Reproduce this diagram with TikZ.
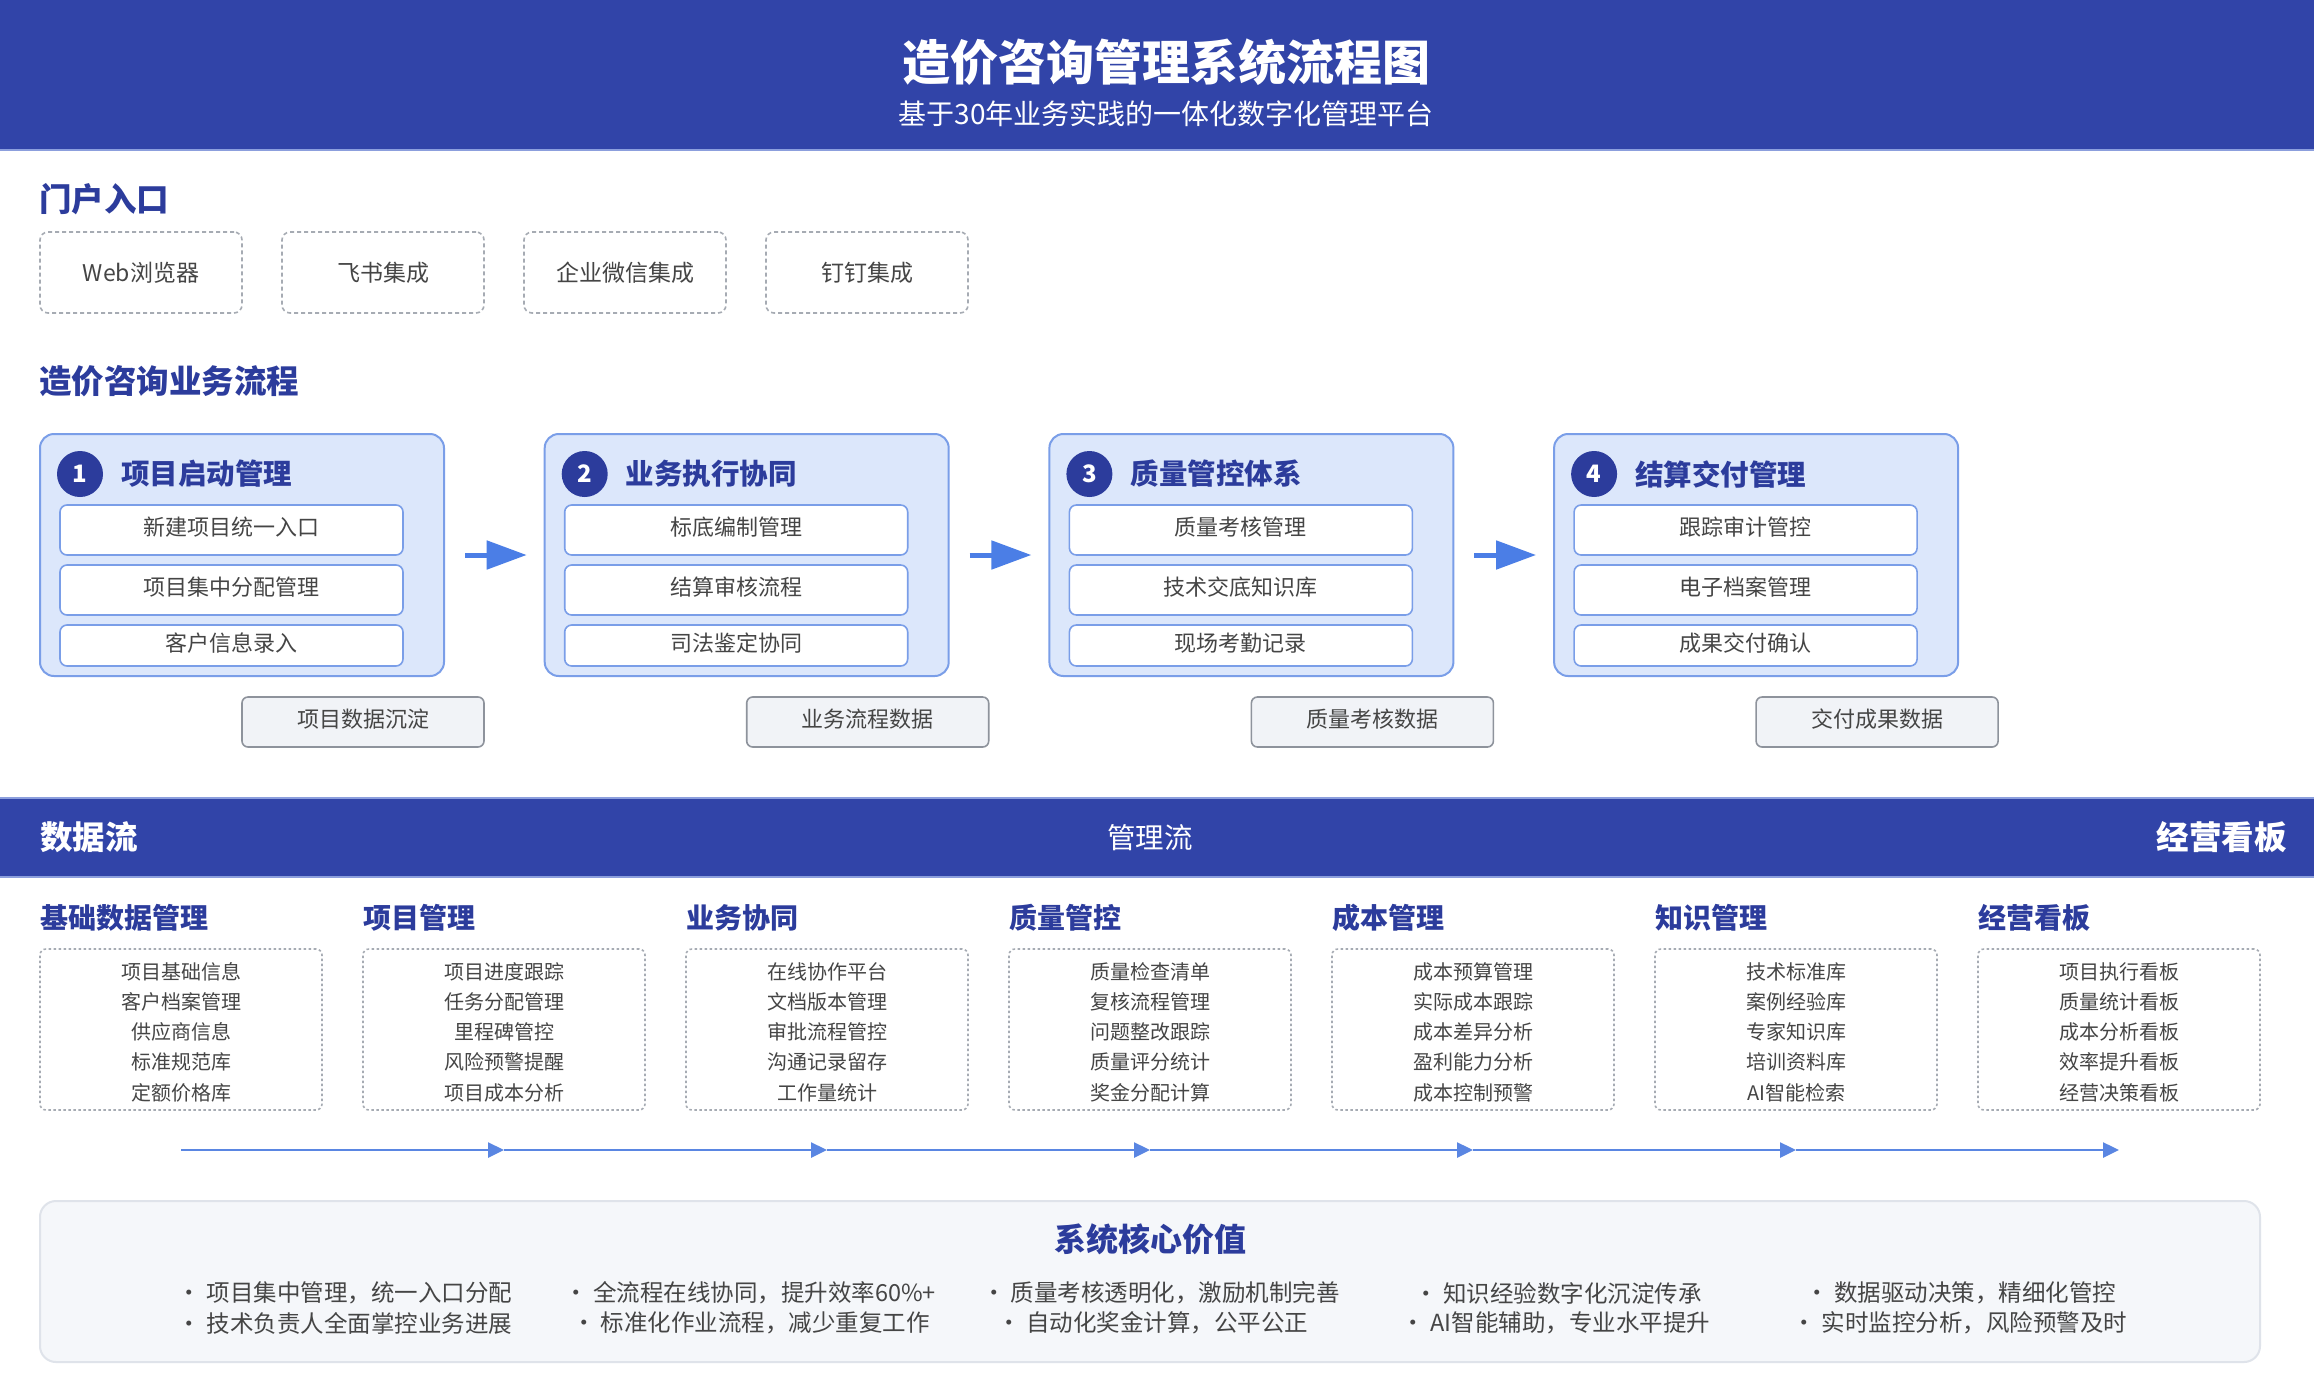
\documentclass[tikz,border=0pt]{standalone}
\usepackage{fontspec}
\setmainfont{Noto Sans CJK SC}
\usetikzlibrary{arrows.meta}
\definecolor{hdr}{HTML}{3144A8}
\definecolor{hdrline}{HTML}{8C9FDD}
\definecolor{dkblue}{HTML}{2C3C9C}
\definecolor{stagefill}{HTML}{DCE7FB}
\definecolor{stagedraw}{HTML}{7A9EE8}
\definecolor{arrowblue}{HTML}{4B7EE6}
\definecolor{flowblue}{HTML}{5A86E2}
\definecolor{txtgray}{HTML}{454545}
\definecolor{dashgray}{HTML}{A6ABB3}
\definecolor{datafill}{HTML}{F1F3F7}
\definecolor{datadraw}{HTML}{8E939C}
\definecolor{panelfill}{HTML}{F5F7FA}
\definecolor{paneldraw}{HTML}{DFE3EA}
\newcommand\myfs[1]{\fontsize{#1}{#1}\selectfont}
\begin{document}
\begin{tikzpicture}[x=1pt,y=-1pt,
  every node/.style={inner sep=0pt},
  secttitle/.style={anchor=west,text=dkblue,font=\myfs{32.5}\bfseries},
  portalbox/.style={draw=dashgray,line width=1.6pt,dash pattern=on 4pt off 3pt,rounded corners=8pt,minimum width=202pt,minimum height=81pt,text=txtgray,font=\myfs{23}},
  stagebox/.style={fill=stagefill,draw=stagedraw,line width=2pt,rounded corners=14pt,minimum width=404pt,minimum height=242pt},
  numdot/.style={circle,fill=dkblue,minimum size=46pt,text=white,font=\myfs{24}\bfseries},
  stagetitle/.style={anchor=west,text=dkblue,font=\myfs{28.5}\bfseries},
  itembox/.style={fill=white,draw=stagedraw,line width=1.6pt,rounded corners=7pt,minimum width=343pt},
  boxtext/.style={text=txtgray,font=\myfs{22}},
  databox/.style={fill=datafill,draw=datadraw,line width=1.6pt,rounded corners=6pt,minimum width=242pt,minimum height=50pt},
  bigarr/.style={draw=arrowblue,line width=5pt,-{Triangle[length=40pt,width=28pt]},shorten <=20pt,shorten >=17pt},
  coltitle/.style={anchor=west,text=dkblue,font=\myfs{28}\bfseries},
  colbox/.style={draw=dashgray,line width=1.6pt,dash pattern=on 2.5pt off 2.5pt,rounded corners=6pt,minimum width=282pt,minimum height=161pt},
  colitem/.style={text=txtgray,font=\myfs{20}},
  flowarr/.style={draw=flowblue,line width=2.5pt,-{Triangle[length=16pt,width=15pt]}},
  valtxt/.style={text=txtgray,font=\myfs{23.5}}
]
\useasboundingbox (0,0) rectangle (2314,1374);
\fill[white] (0,0) rectangle (2314,1374);

% header
\fill[hdr] (0,0) rectangle (2314,149);
\draw[hdrline,line width=2pt] (0,150) -- (2314,150);
\node[text=white,font=\myfs{48}\bfseries] (title) at (1166,62) {造价咨询管理系统流程图};
\node[text=white,font=\myfs{28}] (subtitle) at (1166,114) {基于30年业务实践的一体化数字化管理平台};

% portal
\node[secttitle] (portal) at (39,199) {门户入口};
\node[portalbox] (p1) at (141,272.5) {};
\node[portalbox] (p2) at (383,272.5) {};
\node[portalbox] (p3) at (625,272.5) {};
\node[portalbox] (p4) at (867,272.5) {};
\node[boxtext,font=\myfs{23}] (p1t) at (141,272.5) {Web浏览器};
\node[boxtext,font=\myfs{23}] (p2t) at (383,272.5) {飞书集成};
\node[boxtext,font=\myfs{23}] (p3t) at (625,272.5) {企业微信集成};
\node[boxtext,font=\myfs{23}] (p4t) at (867,272.5) {钉钉集成};

% process
\node[secttitle] (proc) at (39,381) {造价咨询业务流程};
\foreach \n/\ttl/\ia/\ib/\ic/\dt [evaluate=\n as \L using {40+504.7*(\n-1)}] in {
  1/项目启动管理/新建项目统一入口/项目集中分配管理/客户信息录入/项目数据沉淀,
  2/业务执行协同/标底编制管理/结算审核流程/司法鉴定协同/业务流程数据,
  3/质量管控体系/质量考核管理/技术交底知识库/现场考勤记录/质量考核数据,
  4/结算交付管理/跟踪审计管控/电子档案管理/成果交付确认/交付成果数据}{
  \node[stagebox] (s\n) at (\L+202,555) {};
  \node[numdot] (d\n) at (\L+40,474) {\n};
  \node[stagetitle] (t\n) at (\L+81,474) {\ttl};
  \node[itembox,minimum height=50pt] (a\n) at (\L+191.5,530) {};
  \node[itembox,minimum height=50pt] (b\n) at (\L+191.5,590) {};
  \node[itembox,minimum height=41pt] (c\n) at (\L+191.5,645.5) {};
  \node[databox] (x\n) at (\L+323,722) {};
  \node[boxtext] (at\n) at (\L+191.5,527.5) {\ia};
  \node[boxtext] (bt\n) at (\L+191.5,587.5) {\ib};
  \node[boxtext] (ctx\n) at (\L+191.5,643) {\ic};
  \node[boxtext] (xt\n) at (\L+323,719.5) {\dt};
}
\foreach \a/\b in {1/2,2/3,3/4}{
  \draw[bigarr] (s\a.east) -- (s\b.west);
}

% band
\fill[hdr] (0,798) rectangle (2314,877);
\draw[hdrline,line width=2pt] (0,798) -- (2314,798);
\draw[hdrline,line width=2pt] (0,877) -- (2314,877);
\node[anchor=west,text=white,font=\myfs{32.5}\bfseries] (bl) at (40,837) {数据流};
\node[text=white,font=\myfs{28.5}] (bm) at (1150,838) {管理流};
\node[anchor=east,text=white,font=\myfs{32.5}\bfseries] (br) at (2287,837) {经营看板};

% columns
\foreach \n/\ttl/\ia/\ib/\ic/\id/\ie [evaluate=\n as \L using {40+323*(\n-1)}] in {
  1/基础数据管理/项目基础信息/客户档案管理/供应商信息/标准规范库/定额价格库,
  2/项目管理/项目进度跟踪/任务分配管理/里程碑管控/风险预警提醒/项目成本分析,
  3/业务协同/在线协作平台/文档版本管理/审批流程管控/沟通记录留存/工作量统计,
  4/质量管控/质量检查清单/复核流程管理/问题整改跟踪/质量评分统计/奖金分配计算,
  5/成本管理/成本预算管理/实际成本跟踪/成本差异分析/盈利能力分析/成本控制预警,
  6/知识管理/技术标准库/案例经验库/专家知识库/培训资料库/AI智能检索,
  7/经营看板/项目执行看板/质量统计看板/成本分析看板/效率提升看板/经营决策看板}{
  \node[coltitle] (ct\n) at (\L,918) {\ttl};
  \node[colbox] (cb\n) at (\L+141,1029.5) {};
  \node[colitem] (ca\n) at (\L+141,972) {\ia};
  \node[colitem] (cbb\n) at (\L+141,1002) {\ib};
  \node[colitem] (cc\n) at (\L+141,1032) {\ic};
  \node[colitem] (cd\n) at (\L+141,1062) {\id};
  \node[colitem] (ce\n) at (\L+141,1093) {\ie};
  \coordinate (f\n) at (\L+141,1150);
}
\foreach \a/\b in {1/2,2/3,3/4,4/5,5/6,6/7}{
  \draw[flowarr] (f\a) -- (f\b);
}

% value panel
\node[fill=panelfill,draw=paneldraw,line width=2pt,rounded corners=16pt,minimum width=2220pt,minimum height=161pt] (panel) at (1150,1281.5) {};
\node[text=dkblue,font=\myfs{32}\bfseries] (vt) at (1150,1239) {系统核心价值};
\node[valtxt] (v1a) at (345,1293) {• 项目集中管理，统一入口分配};
\node[valtxt] (v1b) at (345,1323) {• 技术负责人全面掌控业务进展};
\node[valtxt] (v2a) at (750,1293) {• 全流程在线协同，提升效率60\%+};
\node[valtxt] (v2b) at (751,1323) {• 标准化作业流程，减少重复工作};
\node[valtxt] (v3a) at (1161,1293) {• 质量考核透明化，激励机制完善};
\node[valtxt] (v3b) at (1153,1323) {• 自动化奖金计算，公平公正};
\node[valtxt] (v4a) at (1558,1293) {• 知识经验数字化沉淀传承};
\node[valtxt] (v4b) at (1556,1323) {• AI智能辅助，专业水平提升};
\node[valtxt] (v5a) at (1961,1293) {• 数据驱动决策，精细化管控};
\node[valtxt] (v5b) at (1960,1323) {• 实时监控分析，风险预警及时};
\end{tikzpicture}
\end{document}
